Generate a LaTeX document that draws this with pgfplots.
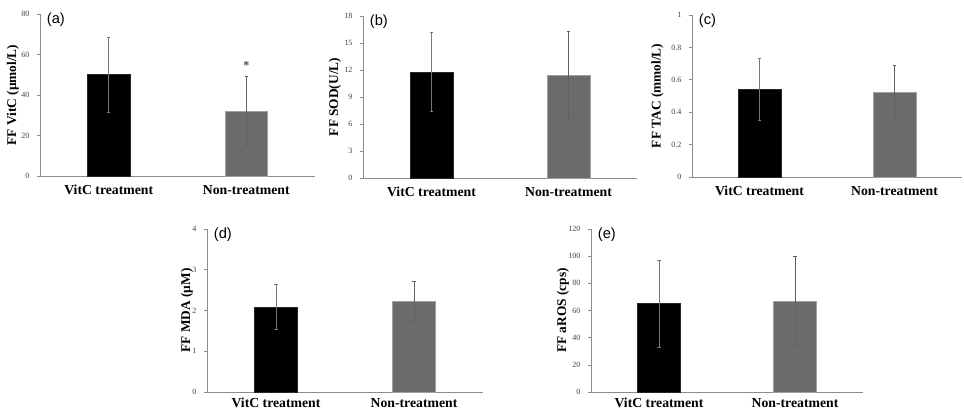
\documentclass[border=0pt]{standalone}
\usepackage{fontspec}
\setmainfont{Liberation Serif}
\newfontfamily\arialfont{Liberation Sans}
\usepackage{pgfplots}
\pgfplotsset{compat=1.18}
\definecolor{axgray}{HTML}{8C8C8C}
\definecolor{bargray}{HTML}{6B6B6B}
\definecolor{baredge}{HTML}{A0A0A0}
\definecolor{errgray}{HTML}{787878}
\pgfplotsset{
  panel/.style={
    scale only axis,
    anchor=south west,
    axis x line*=bottom, axis y line*=left,
    axis line style={axgray, line width=0.6pt},
    xmin=-0.5, xmax=1.5, ymin=0,
    xtick={0,1}, xticklabels={VitC treatment, Non-treatment},
    x tick label style={font=\fontsize{10.3}{12}\selectfont\bfseries},
    major x tick style={draw=none},
    y tick label style={font=\fontsize{6}{7}\selectfont, color=black!75, xshift=-2pt},
    ytick style={axgray, line width=0.5pt},
    tick align=outside,
    major tick length=2.5pt,
    /pgf/number format/assume math mode=true,
    ylabel style={font=\fontsize{10}{12}\selectfont\bfseries, at={(axis description cs:0,0.5)}, anchor=center},
    clip=false,
  },
  toprow/.style={x tick label style={yshift=-1pt}},
  botrow/.style={x tick label style={yshift=1.25pt}},
  blackbar/.style={ybar, bar width=32pt, bar shift=0pt, fill=black, draw=black!85, line width=0.4pt,
    error bars/.cd, y dir=both, y explicit,
    error bar style={errgray, line width=0.5pt},
    error mark options={rotate=90, mark size=1.3pt, errgray, line width=0.5pt}},
  graybar/.style={ybar, bar width=32pt, bar shift=0pt, fill=bargray, draw=baredge, line width=0.4pt,
    error bars/.cd, y dir=both, y explicit,
    error bar style={errgray!80!black, line width=0.5pt},
    error mark options={rotate=90, mark size=1.3pt, errgray!80!black, line width=0.5pt}},
}
\newcommand{\panellabel}[1]{\node[anchor=north west, inner sep=0pt, font=\arialfont\fontsize{11}{12}\selectfont] at ([xshift=5pt,yshift=1pt]current axis.north west) {#1};}
\begin{document}
\begin{tikzpicture}
\useasboundingbox (0,0) rectangle (723pt,308.25pt);
% (a)
\begin{axis}[panel, toprow, at={(30pt,176.25pt)}, width=206.25pt, height=121.5pt,
  ymax=80, ytick={0,20,40,60,80}, ylabel={FF VitC (µmol/L)}, ylabel style={yshift=20.25pt}]
\addplot[blackbar] coordinates {(0,50) +- (0,18.5)};
\addplot[graybar] coordinates {(1,32) +- (0,17)};
\node[font=\fontsize{9}{10}\selectfont\bfseries, color=black!70] at (axis cs:1,54.5) {*};
\panellabel{(a)}
\end{axis}
% (b)
\begin{axis}[panel, toprow, at={(272.25pt,174.75pt)}, width=205.5pt, height=121.5pt,
  ymax=18, ytick={0,3,6,9,12,15,18}, ylabel={FF SOD(U/L)}, ylabel style={yshift=21pt}]
\addplot[blackbar] coordinates {(0,11.8) +- (0,4.4)};
\addplot[graybar] coordinates {(1,11.4) +- (0,4.9)};
\panellabel{(b)}
\end{axis}
% (c)
\begin{axis}[panel, toprow, at={(519pt,175.5pt)}, width=202.5pt, height=121.5pt,
  ymax=1, ytick={0,0.2,0.4,0.6,0.8,1}, ylabel={FF TAC (mmol/L)}, ylabel style={yshift=26pt}]
\addplot[blackbar] coordinates {(0,0.54) +- (0,0.19)};
\addplot[graybar] coordinates {(1,0.52) +- (0,0.17)};
\panellabel{(c)}
\end{axis}
% (d)
\begin{axis}[panel, botrow, at={(155.25pt,14.25pt)}, width=207pt, height=122.25pt,
  ymax=4, ytick={0,1,2,3,4}, ylabel={FF MDA (µM)}, ylabel style={yshift=15pt}]
\addplot[blackbar] coordinates {(0,2.09) +- (0,0.54)};
\addplot[graybar] coordinates {(1,2.23) +- (0,0.48)};
\panellabel{(d)}
\end{axis}
% (e)
\begin{axis}[panel, botrow, at={(443.25pt,14.25pt)}, width=204pt, height=122.25pt,
  ymax=120, ytick={0,20,40,60,80,100,120}, ylabel={FF aROS (cps)}, ylabel style={yshift=21pt}]
\addplot[blackbar] coordinates {(0,65) +- (0,32)};
\addplot[graybar] coordinates {(1,67) +- (0,33)};
\panellabel{(e)}
\end{axis}
\end{tikzpicture}
\end{document}
